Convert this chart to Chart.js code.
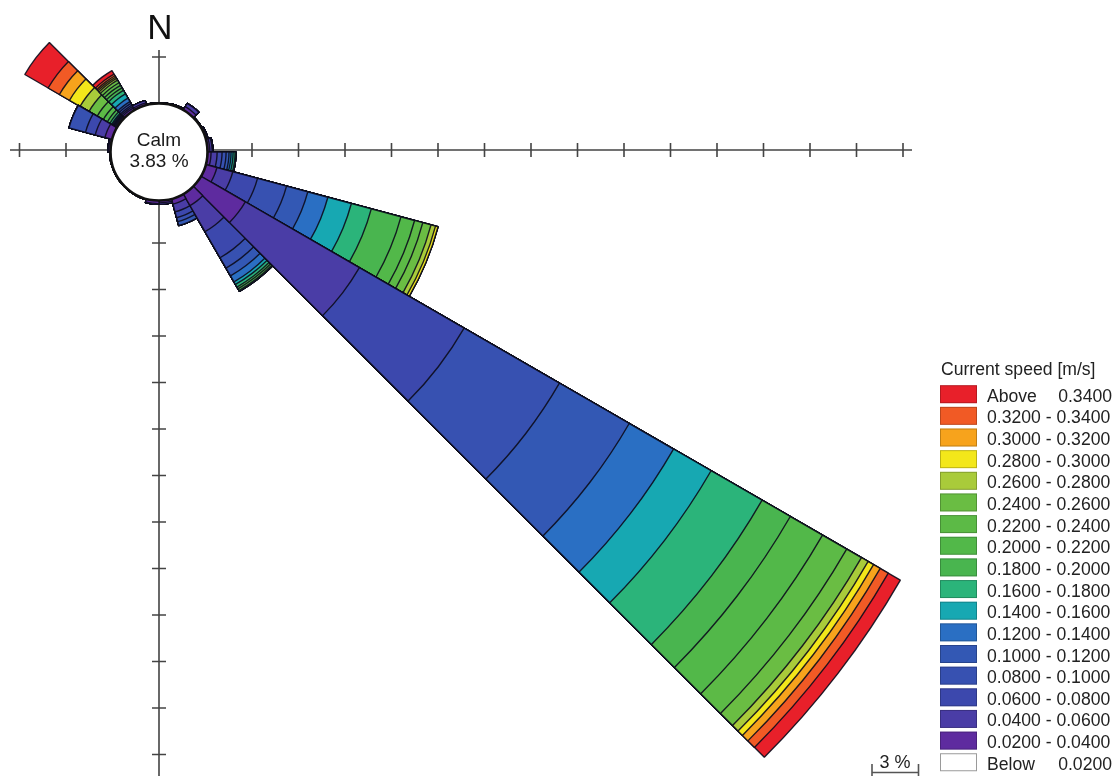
<!DOCTYPE html>
<html>
<head>
<meta charset="utf-8">
<script src="https://cdn.jsdelivr.net/npm/chart.js@4.4.1/dist/chart.umd.min.js"></script>
<style>
  html, body { margin: 0; padding: 0; background: #ffffff; overflow: hidden; }
  canvas { display: block; }
</style>
</head>
<body>
<canvas id="rose" width="1120" height="776"></canvas>
<script>
// Direction sectors: 24 bins of 15°, clockwise from north
const sectors = ['0-15°','15-30°','30-45°','45-60°','60-75°','75-90°','90-105°','105-120°',
                 '120-135°','135-150°','150-165°','165-180°','180-195°','195-210°','210-225°','225-240°',
                 '240-255°','255-270°','270-285°','285-300°','300-315°','315-330°','330-345°','345-360°'];

// Frequency of occurrence (%) per sector, one array per current speed class
const below  = [0,0,0,0,0,0,0,0,0,0,0,0,0,0,0,0,0,0,0,0,0,0,0,0];
const c0204  = [0.05,0.08,0.25,0.05,0.10,0.15,0.23,0.74,3.3,0.87,0.35,0.15,0.20,0.05,0.03,0.03,0.03,0.05,0.12,0.48,0.10,0.16,0.15,0.05];
const c0406  = [0,0,0.25,0,0.05,0.15,0.39,1.06,8.5,1.94,0.52,0.10,0.05,0,0,0,0,0,0.05,0.65,0.06,0.10,0.15,0];
const c0608  = [0,0,0,0,0,0.05,0.32,1.65,7.8,1.94,0.39,0,0,0,0,0,0,0,0,0.65,0.05,0.10,0,0];
const c0810  = [0,0,0,0,0,0,0.26,1.94,7.1,0.77,0.26,0,0,0,0,0,0,0,0,1.10,0.04,0.13,0,0];
const c1012  = [0,0,0,0,0,0,0.19,1.42,5.2,0.58,0.26,0,0,0,0,0,0,0,0,0,0.04,0.13,0,0];
const c1214  = [0,0,0,0,0,0,0.13,1.34,3.3,0.45,0,0,0,0,0,0,0,0,0,0,0.06,0.26,0,0];
const c1416  = [0,0,0,0,0,0,0.13,1.57,2.8,0.19,0,0,0,0,0,0,0,0,0,0,0.06,0.32,0,0];
const c1618  = [0,0,0,0,0,0,0.13,1.33,3.8,0.19,0,0,0,0,0,0,0,0,0,0,0.13,0.26,0,0];
const c1820  = [0,0,0,0,0,0,0.06,1.98,2.1,0.13,0,0,0,0,0,0,0,0,0,0,0.19,0.19,0,0];
const c2022  = [0,0,0,0,0,0,0,0.91,2.4,0.13,0,0,0,0,0,0,0,0,0,0,0.30,0.19,0,0];
const c2224  = [0,0,0,0,0,0,0,0.55,1.8,0.06,0,0,0,0,0,0,0,0,0,0,0.45,0.19,0,0];
const c2426  = [0,0,0,0,0,0,0,0.55,1.1,0,0,0,0,0,0,0,0,0,0,0,0.61,0.19,0,0];
const c2628  = [0,0,0,0,0,0,0,0.30,0.5,0,0,0,0,0,0,0,0,0,0,0,0.66,0.13,0,0];
const c2830  = [0,0,0,0,0,0,0,0.17,0.4,0,0,0,0,0,0,0,0,0,0,0,0.79,0.10,0,0];
const c3032  = [0,0,0,0,0,0,0,0,0.5,0,0,0,0,0,0,0,0,0,0,0,0.75,0.10,0,0];
const c3234  = [0,0,0,0,0,0,0,0,0.6,0,0,0,0,0,0,0,0,0,0,0,0.84,0.13,0,0];
const above  = [0,0,0,0,0,0,0,0,0.9,0,0,0,0,0,0,0,0,0,0,0,1.74,0.26,0,0];

const calmPercent = 3.83;

// Speed classes, slowest first
const classLabels = ['Below|0.0200','0.0200 - 0.0400','0.0400 - 0.0600','0.0600 - 0.0800','0.0800 - 0.1000',
                     '0.1000 - 0.1200','0.1200 - 0.1400','0.1400 - 0.1600','0.1600 - 0.1800','0.1800 - 0.2000',
                     '0.2000 - 0.2200','0.2200 - 0.2400','0.2400 - 0.2600','0.2600 - 0.2800','0.2800 - 0.3000',
                     '0.3000 - 0.3200','0.3200 - 0.3400','Above|0.3400'];
const classColors = ['#ffffff','#5e2b9f','#4a3da6','#3c48ad','#3751b1','#3358b4','#2a6fc3','#17a8b2',
                     '#2bb47a','#49b54f','#52b849','#5cba46','#6abd43','#a9cb3a','#f3e71a','#f7a31c',
                     '#f15a25','#e8202a'];
const classSeries = [below,c0204,c0406,c0608,c0810,c1012,c1214,c1416,c1618,c1820,c2022,c2224,c2426,c2628,c2830,c3032,c3234,above];

// Axis tick step (%), scale bar label
const tickStepPct = 3;
const scaleBarLabel = '3 %';

// Geometry of the rose on the page
const CX = 159, CY = 152;          // rose centre
const AXIS_Y = 150;                // horizontal compass axis
const CALM_R = 48.5;               // calm circle radius (px)
const PX_PER_PCT = 15.5;           // radial pixels per percent
const FONT = '"Liberation Sans", Arial, Helvetica, sans-serif';

// Stacked sectors: each dataset holds the running total up to its class.
// Dataset 0 (innermost) is painted last, so the bands nest outward.
const datasets = [];
let running = sectors.map(() => 0);
classSeries.forEach((series, k) => {
  running = running.map((v, i) => v + series[i]);
  datasets.push({
    label: classLabels[k],
    data: running.slice(),
    backgroundColor: classColors[k],
    borderColor: 'rgba(12,12,28,0.9)',
    borderWidth: 1.4,
    clip: false
  });
});

const placeRose = {
  id: 'placeRose',
  afterLayout(chart) {
    const s = chart.scales.r;
    s.xCenter = CX;
    s.yCenter = CY;
    s.drawingArea = PX_PER_PCT * (s.max - s.min);
  }
};

const compassAxes = {
  id: 'compassAxes',
  beforeDatasetsDraw(chart) {
    const ctx = chart.ctx;
    const step = tickStepPct * PX_PER_PCT;
    ctx.save();
    ctx.strokeStyle = '#444';
    ctx.lineWidth = 1.6;
    ctx.beginPath();
    ctx.moveTo(10, AXIS_Y); ctx.lineTo(912, AXIS_Y);
    ctx.moveTo(CX, 50); ctx.lineTo(CX, 776);
    for (let k = -3; k <= 16; k++) {
      if (k === 0) continue;
      const x = CX + k * step;
      ctx.moveTo(x, AXIS_Y - 7); ctx.lineTo(x, AXIS_Y + 7);
    }
    for (let k = -2; k <= 13; k++) {
      if (k === 0) continue;
      const y = AXIS_Y + k * step;
      ctx.moveTo(CX - 7, y); ctx.lineTo(CX + 7, y);
    }
    ctx.stroke();
    ctx.fillStyle = '#111';
    ctx.font = '35px ' + FONT;
    ctx.textAlign = 'center';
    ctx.textBaseline = 'alphabetic';
    ctx.fillText('N', CX + 1, 38.5);
    ctx.restore();
  }
};

const calmAndLegend = {
  id: 'calmAndLegend',
  afterDatasetsDraw(chart) {
    const ctx = chart.ctx;
    ctx.save();
    // calm circle
    ctx.beginPath();
    ctx.arc(CX, CY, CALM_R, 0, Math.PI * 2);
    ctx.fillStyle = '#ffffff';
    ctx.fill();
    ctx.lineWidth = 2.6;
    ctx.strokeStyle = '#111';
    ctx.stroke();
    ctx.fillStyle = '#1a1a1a';
    ctx.font = '19px ' + FONT;
    ctx.textAlign = 'center';
    ctx.textBaseline = 'alphabetic';
    ctx.fillText('Calm', CX, 146);
    ctx.fillText(calmPercent.toFixed(2) + ' %', CX, 167);

    // legend
    ctx.font = '17.6px ' + FONT;
    ctx.textAlign = 'left';
    ctx.fillStyle = '#222';
    ctx.fillText('Current speed [m/s]', 941, 375);
    const rowH = 21.65;
    const n = classLabels.length;
    for (let i = 0; i < n; i++) {
      const k = n - 1 - i;
      const base = 401.7 + i * rowH;
      ctx.fillStyle = classColors[k];
      ctx.fillRect(940, base - 16.5, 37, 18);
      ctx.lineWidth = 1;
      ctx.strokeStyle = k === 0 ? '#9a9a9a' : 'rgba(0,0,0,0.22)';
      ctx.strokeRect(940.5, base - 16, 36, 17);
      ctx.fillStyle = '#222';
      const parts = classLabels[k].split('|');
      ctx.textAlign = 'left';
      ctx.fillText(parts[0], 987, base);
      if (parts.length > 1) {
        ctx.textAlign = 'right';
        ctx.fillText(parts[1], 1112, base);
      }
    }

    // scale bar
    ctx.strokeStyle = '#555';
    ctx.lineWidth = 1.6;
    ctx.beginPath();
    ctx.moveTo(872, 772.5); ctx.lineTo(872 + tickStepPct * PX_PER_PCT, 772.5);
    ctx.moveTo(872, 764); ctx.lineTo(872, 776);
    ctx.moveTo(872 + tickStepPct * PX_PER_PCT, 764); ctx.lineTo(872 + tickStepPct * PX_PER_PCT, 776);
    ctx.stroke();
    ctx.fillStyle = '#222';
    ctx.textAlign = 'center';
    ctx.font = '18px ' + FONT;
    ctx.fillText(scaleBarLabel, 895, 768);
    ctx.restore();
  }
};

new Chart(document.getElementById('rose'), {
  type: 'polarArea',
  data: { labels: sectors, datasets },
  options: {
    responsive: false,
    animation: false,
    devicePixelRatio: 1,
    layout: { padding: 0 },
    plugins: { legend: { display: false }, tooltip: { enabled: false } },
    scales: {
      r: {
        min: -CALM_R / PX_PER_PCT,
        max: 60,
        startAngle: 0,
        ticks: { display: false },
        grid: { display: false },
        angleLines: { display: false },
        pointLabels: { display: false }
      }
    }
  },
  plugins: [placeRose, compassAxes, calmAndLegend]
});
</script>
</body>
</html>
